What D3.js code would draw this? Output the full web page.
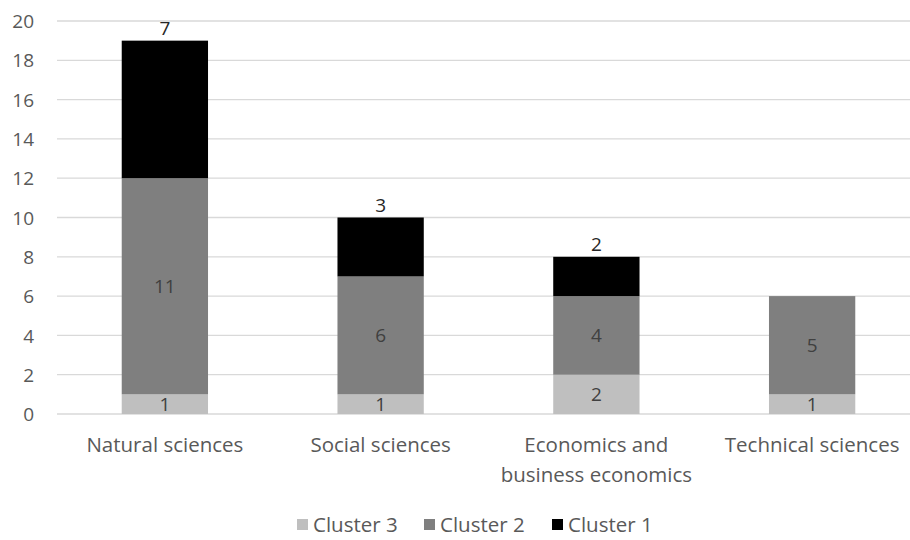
<!DOCTYPE html>
<html><head><meta charset="utf-8">
<script src="https://cdn.jsdelivr.net/npm/d3@7"></script>
<style>body{margin:0;background:#fff}</style>
</head><body><svg id="c" width="910" height="540"></svg>
<script>
const categories = [["Natural sciences"],["Social sciences"],["Economics and","business economics"],["Technical sciences"]];
const seriesNames = ["Cluster 3","Cluster 2","Cluster 1"];
const cluster3 = [1,1,2,1];
const cluster2 = [11,6,4,5];
const cluster1 = [7,3,2,0];
const yTicks = [0,2,4,6,8,10,12,14,16,18,20];
const colors = ["#bfbfbf","#7f7f7f","#000000"];

const svg = d3.select("#c");
const font = "'Open Sans', sans-serif";
const fs = 20.5;
const keys = categories.map(c=>c.join(" "));
const x = d3.scaleBand().domain(keys).range([57,920]).paddingInner(0.6).paddingOuter(0.3);
const y = d3.scaleLinear().domain([0,20]).range([414,21]);

const table = keys.map((k,i)=>({key:k, "Cluster 3":cluster3[i], "Cluster 2":cluster2[i], "Cluster 1":cluster1[i]}));
const stacked = d3.stack().keys(seriesNames)(table);

// gridlines
svg.append("g").selectAll("line").data(yTicks).join("line")
  .attr("x1",57).attr("x2",910).attr("y1",d=>y(d)).attr("y2",d=>y(d))
  .attr("stroke","#d9d9d9").attr("stroke-width",1.3);

// y axis labels
const yAxis = d3.axisLeft(y).tickValues(yTicks).tickSize(0).tickPadding(0);
const ya = svg.append("g").attr("transform","translate(34,0)").call(yAxis);
ya.select(".domain").remove();
ya.selectAll("text").attr("font-family",font).attr("font-size",19).attr("fill","#595959").attr("text-anchor","end").attr("dy","0.35em");

// bars
stacked.forEach((s,si)=>{
  svg.append("g").selectAll("rect").data(s).join("rect")
    .attr("x",d=>x(d.data.key)).attr("width",x.bandwidth())
    .attr("y",d=>y(d[1])).attr("height",d=>y(d[0])-y(d[1]))
    .attr("fill",colors[si]);
});

// labels
stacked.forEach((s,si)=>{
  svg.append("g").selectAll("text").data(s.filter(d=>d[1]-d[0]>0)).join("text")
    .attr("x",d=>x(d.data.key)+x.bandwidth()/2)
    .attr("y",d=> si===2 ? y(d[1])-6 : y((d[0]+d[1])/2))
    .attr("dy", si===2 ? "0" : "0.35em")
    .attr("text-anchor","middle").attr("font-family",font).attr("font-size",19)
    .attr("fill", si===2 ? "#262626" : "#404040")
    .text(d=>d[1]-d[0]);
});

// x labels
const xa = svg.append("g");
categories.forEach((c,i)=>{
  const cx = x(keys[i])+x.bandwidth()/2;
  const t = xa.append("text").attr("x",cx).attr("y",452)
    .attr("text-anchor","middle").attr("font-family",font).attr("font-size",fs).attr("fill","#595959");
  c.forEach((line,j)=>t.append("tspan").attr("x",cx).attr("dy",j===0?0:30).text(line));
});

// legend
const legX = [297,424,552];
const lg = svg.append("g");
seriesNames.forEach((n,i)=>{
  lg.append("rect").attr("x",legX[i]).attr("y",519).attr("width",11).attr("height",11).attr("fill",colors[i]);
  lg.append("text").attr("x",legX[i]+16).attr("y",532).attr("font-family",font).attr("font-size",fs).attr("fill","#595959").text(n);
});
</script></body></html>
